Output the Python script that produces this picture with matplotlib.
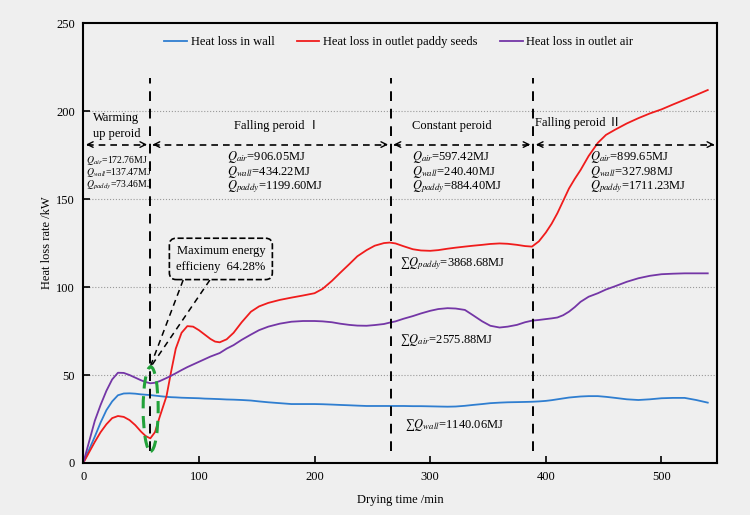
import matplotlib
matplotlib.use("Agg")
import matplotlib.pyplot as plt
from matplotlib.patches import Ellipse

plt.rcParams['font.family'] = ['Liberation Serif', 'Noto Sans CJK SC', 'DejaVu Sans']
plt.rcParams['mathtext.fontset'] = 'stix'

# drying time (min)
t = [0, 5, 10, 15, 20, 25, 30, 35, 40, 45,
     50, 54, 58, 62, 66, 72, 76, 80, 85, 90,
     95, 100, 105, 110, 114, 118, 124, 130, 137, 145,
     152, 160, 170, 180, 190, 200, 207, 215, 222, 230,
     237, 245, 252, 260, 265, 270, 277, 285, 292, 300,
     307, 315, 322, 330, 337, 345, 352, 360, 367, 375,
     382, 388, 394, 400, 405, 410, 415, 420, 425, 430,
     437, 445, 452, 460, 470, 480, 490, 500, 510, 520,
     530, 540]

wall = [0, 7.5, 15, 23, 30, 35, 38.5, 39.5, 39.6, 39.4,
        39, 38.8, 38.6, 38.3, 38, 37.6, 37.4, 37.3, 37.1, 37,
        36.9, 36.8, 36.6, 36.5, 36.4, 36.3, 36.1, 36, 35.8, 35.5,
        35, 34.5, 34, 33.5, 33.5, 33.5, 33.4, 33.2, 33, 32.8,
        32.6, 32.4, 32.4, 32.4, 32.4, 32.4, 32.4, 32.3, 32.3, 32.2,
        32.1, 32, 32.1, 32.5, 33, 33.5, 34, 34.3, 34.5, 34.6,
        34.7, 34.8, 35, 35.3, 35.7, 36.2, 36.7, 37.2, 37.5, 37.8,
        38, 38, 37.6, 37, 36.2, 35.8, 36.2, 36.8, 37, 37,
        35.8, 34.3]

paddy = [0, 6, 12, 17.5, 22, 25.5, 26.7, 26.2, 24.4, 21.5,
         17.8, 15.3, 14, 17.5, 26, 38, 52, 65, 74, 77.8,
         77.5, 75.5, 73, 70.5, 69, 68.6, 70.3, 74, 80, 86,
         89, 91, 92.7, 94, 95.2, 96.5, 99, 103.5, 108, 113,
         117.5, 121, 123.5, 125, 125.3, 124.8, 123.2, 121.5, 120.8, 120.6,
         121, 121.8, 122.4, 123, 123.5, 124, 124.5, 124.8, 124.6, 124,
         123.3, 123, 126, 131, 136, 142, 149, 156, 161.5, 166.5,
         174.5, 182, 186.5, 189.5, 193, 196, 198.7, 201, 203.8, 206.5,
         209.2, 212]

air = [0, 12, 24, 33, 41, 47.5, 51.3, 51.2, 50, 48.5,
       47, 46, 45.3, 45.6, 46.5, 48.3, 49.6, 51, 52.8, 54.5,
       56, 57.5, 59, 60.5, 61.5, 62.5, 65, 67, 70, 73,
       75.5, 77.5, 79.2, 80.3, 80.7, 80.7, 80.5, 80, 79.2, 78.5,
       78.1, 78, 78.4, 79, 79.8, 80.5, 82, 83.5, 85, 86.5,
       87.5, 88, 87.8, 87, 84, 80.5, 78, 77, 77.5, 78.5,
       80, 80.9, 81.3, 81.8, 82.2, 82.7, 84, 86, 88.6, 91.6,
       94.5, 96.5, 98.6, 100.5, 103, 105, 106.4, 107.3, 107.6, 107.8,
       107.8, 107.8]

# period boundaries (min)
bounds = [0, 57.6, 266, 389, 548]
period_names = ['Warming\nup peroid', 'Falling peroid Ⅰ', 'Constant peroid', 'Falling peroid Ⅱ']
q_air = ['172.76', '906.05', '597.42', '899.65']
q_wall = ['137.47', '434.22', '240.40', '327.98']
q_paddy = ['73.46', '1199.60', '884.40', '1711.23']

bg = '#efefef'
fig = plt.figure(figsize=(7.5, 5.15), dpi=100, facecolor=bg)
ax = fig.add_axes([0.111, 0.101, 0.845, 0.854], facecolor=bg)

ax.plot(t, wall, color='#2f7ed0', lw=1.3, label='Heat loss in wall')
ax.plot(t, paddy, color='#f01c1c', lw=1.3, label='Heat loss in outlet paddy seeds')
ax.plot(t, air, color='#7436a6', lw=1.3, label='Heat loss in outlet air')

ax.set_xlim(0, 548)
ax.set_ylim(0, 250)
ax.set_xticks(range(0, 501, 100))
ax.set_yticks(range(0, 251, 50))
ax.tick_params(direction='in', length=5, width=1.2, labelsize=9, pad=6)
for s in ax.spines.values():
    s.set_linewidth(1.5)
for yv in [50, 100, 150, 200]:
    ax.axhline(yv, color='#9a9a9a', lw=0.8, ls=':', zorder=0)

ax.set_xlabel('Drying time /min', fontsize=9, labelpad=8)
ax.set_ylabel('Heat loss rate /kW', fontsize=9, labelpad=2)

leg = ax.legend(loc='center', bbox_to_anchor=(0.498, 0.957), ncol=3, frameon=False,
                fontsize=9, handlelength=1.8, columnspacing=1.8, handletextpad=0.3)

# period boundaries and arrows
for xb in bounds[1:4]:
    ax.plot([xb, xb], [7, 219], color='black', lw=1.4, dashes=(5, 4))
ya = 181
for a, b in zip(bounds[:-1], bounds[1:]):
    ax.plot([a + 3, b - 3], [ya, ya], color='black', lw=1.2, dashes=(4, 3))
    ax.annotate('', xy=(a, ya), xytext=(a + 8, ya),
                arrowprops=dict(arrowstyle='->', lw=1.0, color='black'))
    ax.annotate('', xy=(b, ya), xytext=(b - 8, ya),
                arrowprops=dict(arrowstyle='->', lw=1.0, color='black'))

ax.text(28.6, 191.5, period_names[0], ha='center', va='center', fontsize=9, linespacing=1.45)
ax.text(167.6, 191.5, period_names[1], ha='center', va='center', fontsize=9)
ax.text(319, 191.5, period_names[2], ha='center', va='center', fontsize=9)
ax.text(391, 193, period_names[3], ha='left', va='center', fontsize=9)

# energy in each period
ax.text(2, 171.8, r'$Q_{air}$=' + q_air[0] + 'MJ', fontsize=7, va='center')
ax.text(2, 164.9, r'$Q_{wall}$=' + q_wall[0] + 'MJ', fontsize=7, va='center')
ax.text(2, 157.9, r'$Q_{paddy}$=' + q_paddy[0] + 'MJ', fontsize=7, va='center')
for x0, i in [(124, 1), (284, 2), (438.5, 3)]:
    ax.text(x0, 173.9, r'$Q_{air}$=' + q_air[i] + 'MJ', fontsize=9, va='center')
    ax.text(x0, 165.3, r'$Q_{wall}$=' + q_wall[i] + 'MJ', fontsize=9, va='center')
    ax.text(x0, 156.8, r'$Q_{paddy}$=' + q_paddy[i] + 'MJ', fontsize=9, va='center')

ax.text(274, 113.5, '∑' + r'$Q_{paddy}$' + '=3868.68MJ', fontsize=9, va='center')
ax.text(274, 70, '∑' + r'$Q_{air}$' + '=2575.88MJ', fontsize=9, va='center')
ax.text(278, 21.6, '∑' + r'$Q_{wall}$' + '=1140.06MJ', fontsize=9, va='center')

# maximum efficiency callout
ax.add_patch(Ellipse((58.3, 30.7), 13, 48, fill=False, edgecolor='#22a23a',
                     lw=2.2, ls=(0, (4, 2.5)), zorder=5))
ax.plot([86.4, 57.8], [104, 54.5], color='black', lw=1.1, dashes=(4, 3))
ax.plot([109.5, 58.2], [104, 54.5], color='black', lw=1.1, dashes=(4, 3))
ax.text(119, 116, 'Maximum energy\nefficieny  64.28%', ha='center', va='center',
        fontsize=9, linespacing=1.4,
        bbox=dict(boxstyle='round,pad=0.55', facecolor=bg, edgecolor='black',
                  lw=1.2, ls='--'))

fig.savefig('out.png', dpi=100, facecolor=bg)
